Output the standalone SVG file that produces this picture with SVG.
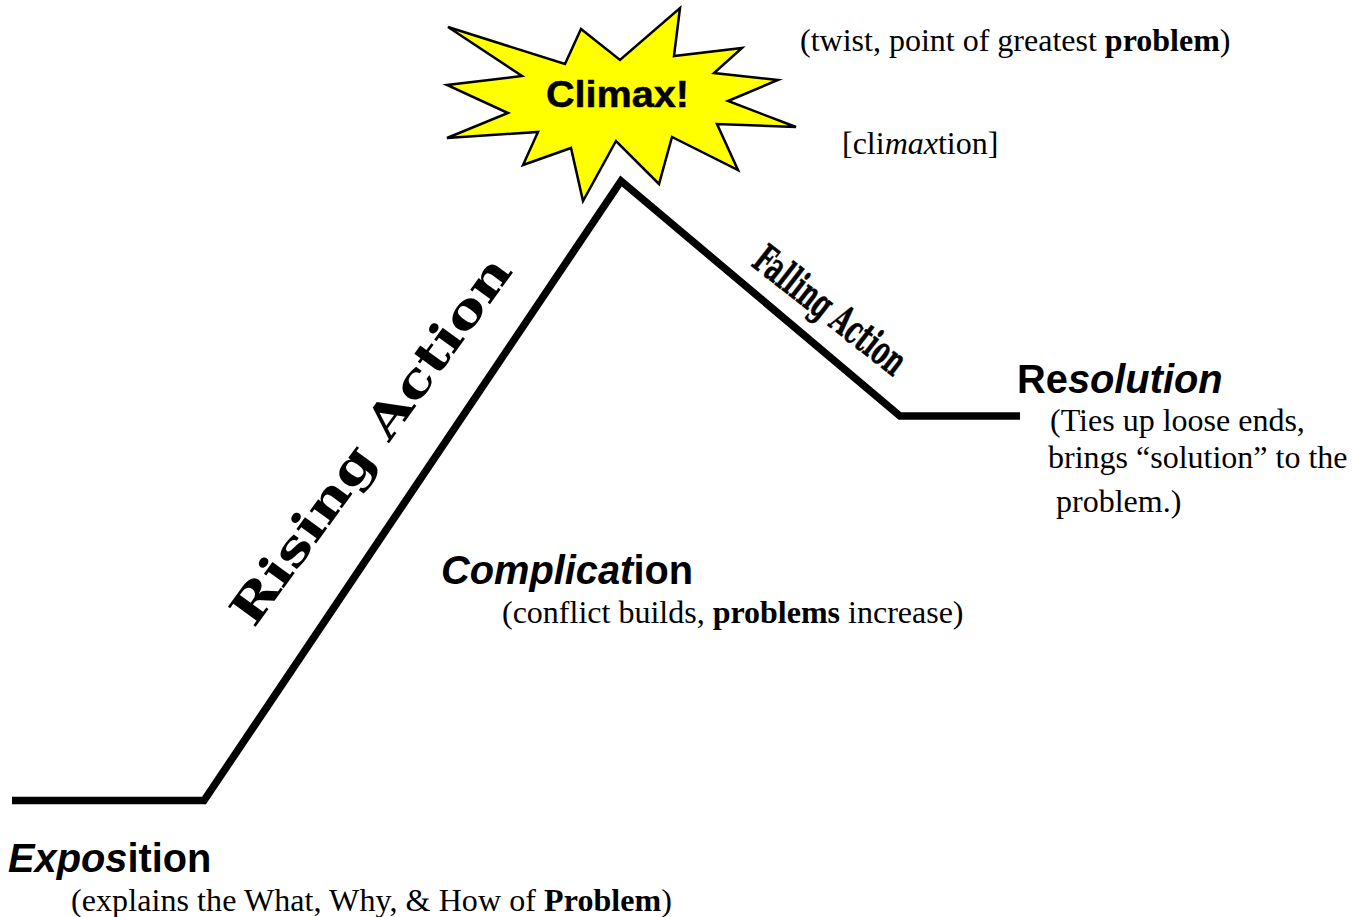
<svg xmlns="http://www.w3.org/2000/svg" width="1365" height="917" viewBox="0 0 1365 917">
<style>
.h{font-family:"Liberation Sans",Arial,sans-serif;font-weight:bold;font-size:39.8px;fill:#000}
.b{font-family:"Liberation Serif","Times New Roman",serif;font-size:32px;fill:#000}
.w{font-family:"DejaVu Serif",serif;font-weight:bold;fill:#000}
</style>
<rect width="1365" height="917" fill="#fff"/>
<g id="connectors"><polyline points="12,800.5 204,800.5 621,181 900,416 1020,416" fill="none" stroke="#000" stroke-width="7.5" stroke-linejoin="miter"/></g>
<g id="climax">
<polygon points="448,27 565,64 581,29 620,60 680,8 674,56 742,48 714,73 778,80 728,101 796,127 717,124 738,170 672,137 659,184 616,141 583,201 571,148 523,165 538,132 447,138 508,113 447,85 522,76" fill="#ff0" stroke="#000" stroke-width="2.5"/>
<text x="546" y="107" font-family="Liberation Sans" font-weight="bold" font-size="36" stroke="#000" stroke-width="0.5" textLength="143" lengthAdjust="spacingAndGlyphs">Climax!</text>
</g>
<g id="climax-notes">
<text class="b" x="800" y="50.5">(twist, point of greatest <tspan font-weight="bold">problem</tspan>)</text>
<text class="b" x="842" y="153.5">[cli<tspan font-style="italic">max</tspan>tion]</text>
</g>
<g id="rising-action"><text class="w" font-size="47" transform="translate(254,629) rotate(-54)" textLength="442" lengthAdjust="spacingAndGlyphs">Rising Action</text></g>
<g id="falling-action"><text class="w" font-size="40" stroke="#000" stroke-width="0.6" transform="translate(750,265) rotate(38)" textLength="182" lengthAdjust="spacingAndGlyphs">Falling Action</text></g>
<g id="resolution">
<text class="h" x="1017" y="392.5">Re<tspan font-style="italic">solution</tspan></text>
<text class="b" x="1050" y="430.5">(Ties up loose ends,</text>
<text class="b" x="1048" y="467.5">brings “solution” to the</text>
<text class="b" x="1056" y="511.5">problem.)</text>
</g>
<g id="complication">
<text class="h" x="441" y="583.5"><tspan font-style="italic">Complicat</tspan>ion</text>
<text class="b" x="502" y="622.5">(conflict builds, <tspan font-weight="bold">problems</tspan> increase)</text>
</g>
<g id="exposition">
<text class="h" x="8" y="871.5"><tspan font-style="italic">Expos</tspan>ition</text>
<text class="b" x="71" y="910.5" textLength="601">(explains the What, Why, &amp; How of <tspan font-weight="bold">Problem</tspan>)</text>
</g>
</svg>
